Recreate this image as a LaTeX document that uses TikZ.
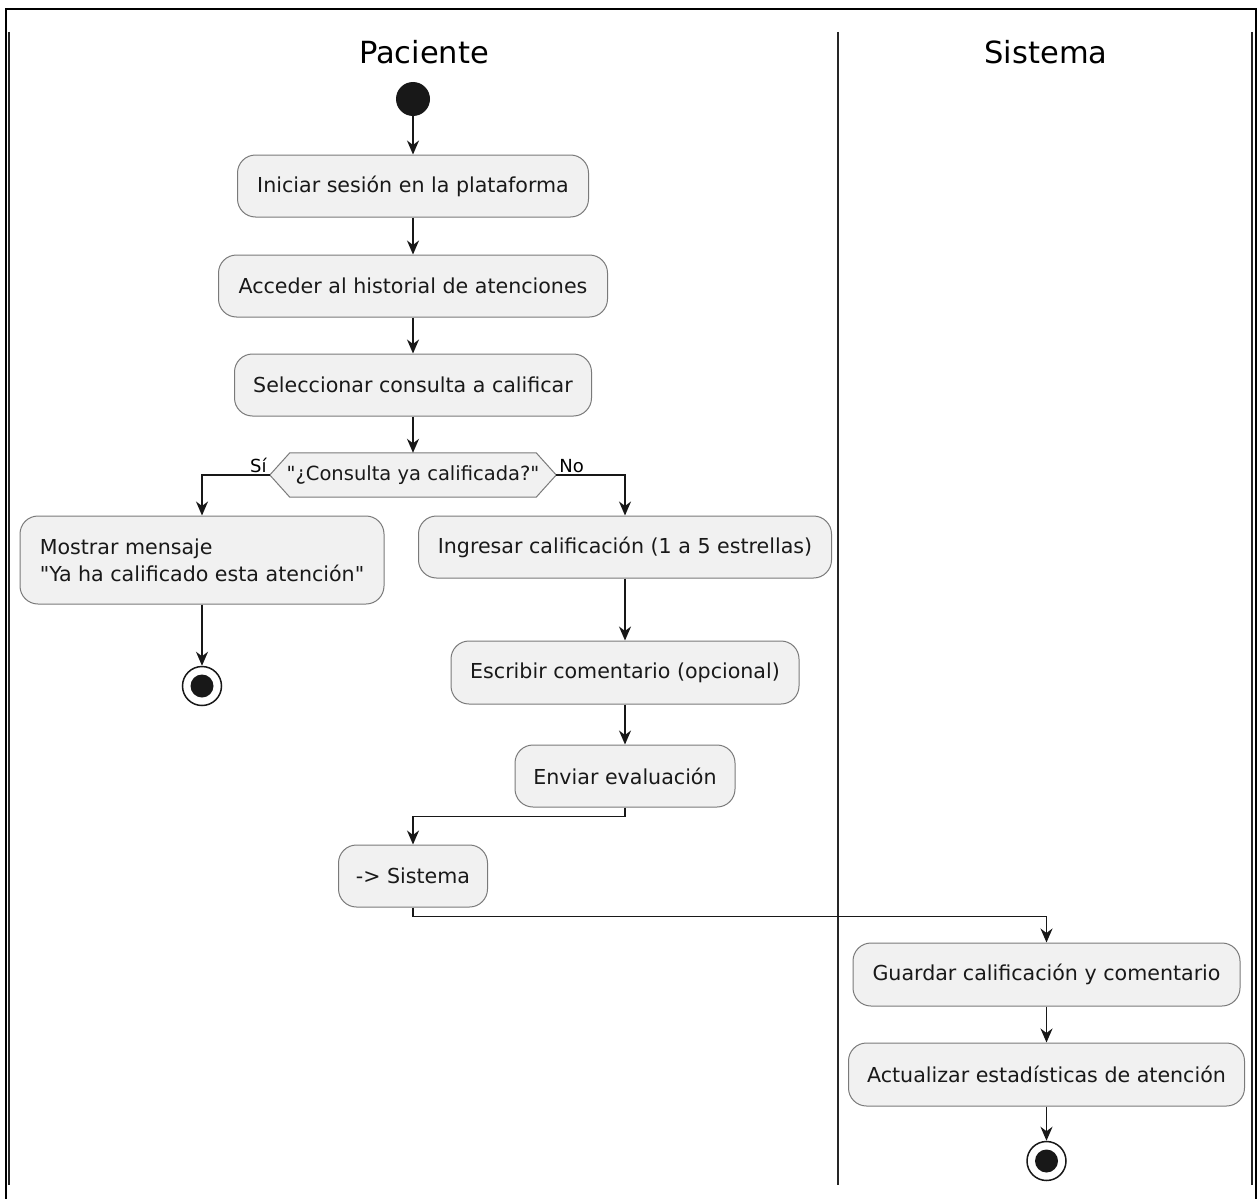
\documentclass[tikz,border=0pt]{standalone}
\usepackage{fontspec}
\setmainfont{DejaVu Sans}[Ligatures=TeXOff]
\usetikzlibrary{arrows.meta,calc}
\definecolor{boxfill}{HTML}{F1F1F1}
\definecolor{boxline}{HTML}{7A7A7A}
\definecolor{ink}{HTML}{181818}
\tikzset{
  act/.style={draw=boxline, fill=boxfill, line width=1pt, rounded corners=18pt,
    inner sep=0pt, font=\fontsize{20.6}{27}\selectfont, text=black!90},
  flow/.style={draw=ink, line width=1.6pt,
    -{Stealth[length=14pt,width=12pt,inset=4.5pt]}},
  lane/.style={draw=black!85, line width=2.2pt},
  title/.style={font=\fontsize{30.5}{36}\selectfont},
  guard/.style={font=\fontsize{18}{22}\selectfont, inner sep=1pt},
}
\begin{document}
\begin{tikzpicture}[x=1pt,y=-1pt]
\useasboundingbox (0,0) rectangle (1259,1199);
\fill[white] (0,0) rectangle (1259,1199);

% outer frame
\draw[black, line width=2pt] (6,1199) -- (6,9) -- (1256,9) -- (1256,1199);

% swimlane separators
\draw[lane] (9,32) -- (9,1185);
\draw[lane] (838,32) -- (838,1185);
\draw[lane] (1252,32) -- (1252,1185);

% lane titles
\node[title] (tp) at (424,52) {Paciente};
\node[title] (ts) at (1046,52) {Sistema};

% start
\node[circle, fill=ink, minimum size=34pt, inner sep=0pt] (start) at (413,99) {};

% activities
\node[act, minimum width=351pt, minimum height=62pt] (b1) at (413,186) {Iniciar sesión en la plataforma};
\node[act, minimum width=389pt, minimum height=62pt] (b2) at (413,286) {Acceder al historial de atenciones};
\node[act, minimum width=357pt, minimum height=62pt] (b3) at (413,385) {Seleccionar consulta a calificar};

% decision
\node[inner sep=0pt, minimum width=246pt, minimum height=44pt] (dec) at (413,475) {};
\coordinate (decL) at ($(dec.west)+(-20,0)$);
\coordinate (decR) at ($(dec.east)+(20,0)$);
\draw[draw=boxline, fill=boxfill, line width=1pt]
  (decL) -- (dec.north west) -- (dec.north east) -- (decR)
  -- (dec.south east) -- (dec.south west) -- cycle;
\node[inner sep=0pt, font=\fontsize{19.5}{24}\selectfont, text=black!90] (dectext) at (dec) {"¿Consulta ya calificada?"};
\node[guard, anchor=south east] (si) at ($(decL)+(-2,-1)$) {Sí};
\node[guard, anchor=south west] (no) at ($(decR)+(2,-1)$) {No};

\node[act, minimum width=364pt, minimum height=88pt, align=left] (b4) at (202,560)
  {Mostrar mensaje\\"Ya ha calificado esta atención"};
\node[act, minimum width=413pt, minimum height=62pt] (b5) at (625,547) {Ingresar calificación (1 a 5 estrellas)};
\node[act, minimum width=348pt, minimum height=63pt] (b6) at (625,672.5) {Escribir comentario (opcional)};
\node[act, minimum width=220pt, minimum height=62pt] (b7) at (625,776) {Enviar evaluación};
\node[act, minimum width=149pt, minimum height=62pt] (b8) at (413,876) {-> Sistema};
\node[act, minimum width=387pt, minimum height=63pt] (b9) at (1046.5,974.5) {Guardar calificación y comentario};
\node[act, minimum width=396pt, minimum height=63pt] (b10) at (1046.5,1074.5) {Actualizar estadísticas de atención};

% end points
\node[circle, draw=ink, line width=1.5pt, fill=white, minimum size=39pt, inner sep=0pt] (end1) at (202,686) {};
\fill[ink] (end1.center) circle (11.5);
\node[circle, draw=ink, line width=1.5pt, fill=white, minimum size=39pt, inner sep=0pt] (end2) at (1046.5,1161) {};
\fill[ink] (end2.center) circle (11.5);

% flows
\draw[flow] (start) -- (b1);
\draw[flow] (b1) -- (b2);
\draw[flow] (b2) -- (b3);
\draw[flow] (b3) -- (dec.north);
\draw[flow] (decL) -| (b4.north);
\draw[flow] (decR) -| (b5.north);
\draw[flow] (b4) -- (end1);
\draw[flow] (b5) -- (b6);
\draw[flow] (b6) -- (b7);
\draw[flow] (b7.south) -- ++(0,9) -| (b8.north);
\draw[flow] (b8.south) -- ++(0,9) -| (b9.north);
\draw[flow] (b9) -- (b10);
\draw[flow] (b10) -- (end2);
\end{tikzpicture}
\end{document}
